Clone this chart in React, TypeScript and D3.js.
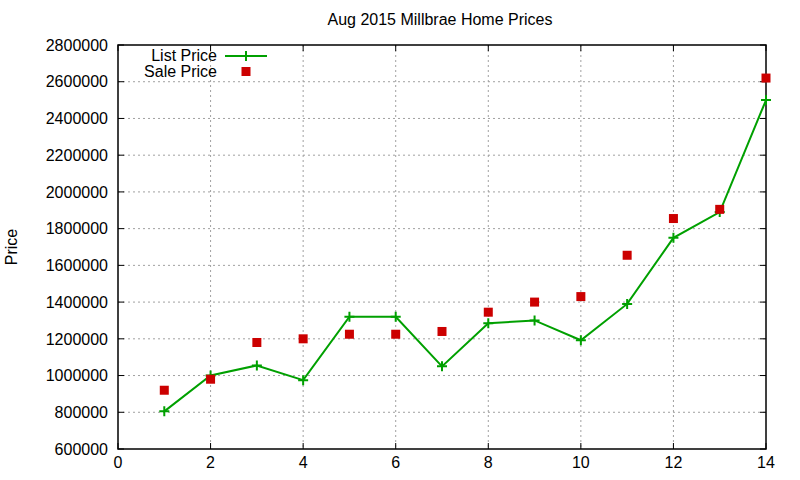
import React from 'react';
import * as d3 from 'd3';

const months = [1, 2, 3, 4, 5, 6, 7, 8, 9, 10, 11, 12, 13, 14];
const listPrice = [805000, 1000000, 1055000, 975000, 1320000, 1320000, 1050000, 1285000, 1300000, 1192000, 1390000, 1750000, 1890000, 2500000];
const salePrice = [920000, 980000, 1180000, 1200000, 1225000, 1225000, 1240000, 1345000, 1400000, 1430000, 1655000, 1855000, 1905000, 2620000];
const xTicks = [0, 2, 4, 6, 8, 10, 12, 14];
const yTicks = [600000, 800000, 1000000, 1200000, 1400000, 1600000, 1800000, 2000000, 2200000, 2400000, 2600000, 2800000];

const W = 800;
const H = 480;
const margin = { top: 45, right: 34, bottom: 31, left: 118 };
const green = '#00a000';
const red = '#cc0000';
const font = '"Liberation Sans", Arial, sans-serif';
const fs = 16;

export default function App() {
  const x = d3.scaleLinear().domain([0, 14]).range([margin.left, W - margin.right]);
  const y = d3.scaleLinear().domain([600000, 2800000]).range([H - margin.bottom, margin.top]);
  const [x0, x1] = x.range();
  const [y0, y1] = y.range();

  const line = d3.line<number>()
    .x((_, i) => x(months[i]))
    .y(d => y(d));

  const plus = (cx: number, cy: number, key: string) => (
    <path key={key} d={`M${cx - 5},${cy}H${cx + 5}M${cx},${cy - 5}V${cy + 5}`} stroke={green} strokeWidth={2} />
  );

  return (
    <svg width={W} height={H} style={{ position: 'absolute', left: 0, top: 0, background: '#fff' }} fontFamily={font}>
      {/* grid */}
      {xTicks.slice(1, -1).map(t => (
        <line key={'gx' + t} x1={x(t)} x2={x(t)} y1={y1} y2={y0} stroke="#a0a0a0" strokeDasharray="2,3" />
      ))}
      {yTicks.slice(1, -1).map(t => (
        <line key={'gy' + t} x1={x0} x2={x1} y1={y(t)} y2={y(t)} stroke="#a0a0a0" strokeDasharray="2,3" />
      ))}

      {/* ticks */}
      {xTicks.map(t => (
        <g key={'tx' + t}>
          <line x1={x(t)} x2={x(t)} y1={y0} y2={y0 - 6} stroke="#000" />
          <line x1={x(t)} x2={x(t)} y1={y1} y2={y1 + 6} stroke="#000" />
          <text x={x(t)} y={y0 + 19} fontSize={fs} textAnchor="middle">{t}</text>
        </g>
      ))}
      {yTicks.map(t => (
        <g key={'ty' + t}>
          <line x1={x0} x2={x0 + 6} y1={y(t)} y2={y(t)} stroke="#000" />
          <line x1={x1} x2={x1 - 6} y1={y(t)} y2={y(t)} stroke="#000" />
          <text x={x0 - 10} y={y(t)} dy="0.36em" fontSize={fs} textAnchor="end">{t}</text>
        </g>
      ))}

      <rect x={x0} y={y1} width={x1 - x0} height={y0 - y1} fill="none" stroke="#000" strokeWidth={1.5} />

      {/* series */}
      <path d={line(listPrice) ?? ''} fill="none" stroke={green} strokeWidth={2} />
      {listPrice.map((v, i) => plus(x(months[i]), y(v), 'p' + i))}
      {salePrice.map((v, i) => (
        <rect key={'s' + i} x={x(months[i]) - 4.5} y={y(v) - 4.5} width={9} height={9} fill={red} />
      ))}

      {/* legend */}
      <text x={217} y={55} dy="0.36em" fontSize={fs} textAnchor="end">List Price</text>
      <line x1={225} x2={267} y1={56} y2={56} stroke={green} strokeWidth={2} />
      {plus(246, 56, 'lp')}
      <text x={217} y={71} dy="0.36em" fontSize={fs} textAnchor="end">Sale Price</text>
      <rect x={241.5} y={67} width={9} height={9} fill={red} />

      <text x={440} y={25} fontSize={fs} textAnchor="middle">Aug 2015 Millbrae Home Prices</text>
      <text transform="translate(17,247) rotate(-90)" fontSize={fs} textAnchor="middle">Price</text>
    </svg>
  );
}
